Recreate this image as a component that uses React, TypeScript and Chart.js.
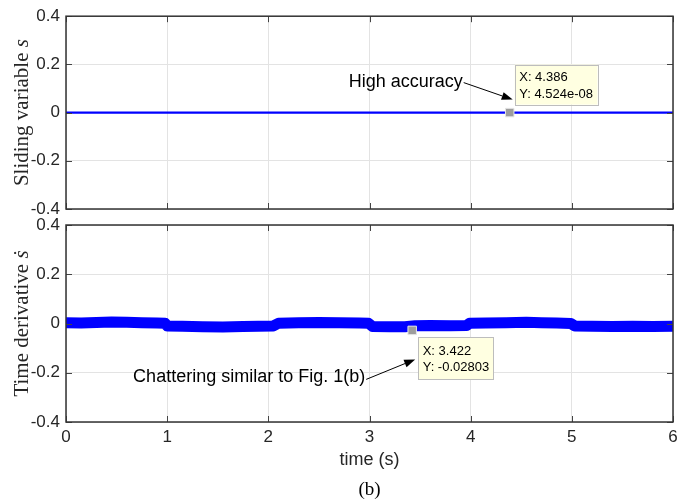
import React, { useEffect, useRef } from 'react';
import { Chart, registerables } from 'chart.js';

Chart.register(...registerables);

// ---- data ----
const timeTop = [0, 1, 2, 3, 4, 5, 6];
const slidingS = [0, 0, 0, 0, 0, 0, 0];

const timeBottom = [
  0.0, 0.15, 0.3, 0.45, 0.6, 0.75, 0.9, 0.98, 1.0, 1.15, 1.35, 1.55, 1.75, 1.9, 2.05,
  2.1, 2.3, 2.5, 2.7, 2.9, 2.99, 3.03, 3.2, 3.35, 3.45, 3.6, 3.8, 3.96, 3.99, 4.15,
  4.35, 4.55, 4.7, 4.85, 4.99, 5.03, 5.2, 5.4, 5.6, 5.8, 6.0,
];
const derivS = [
  0.003, 0.002, 0.004, 0.006, 0.005, 0.003, 0.002, 0.001, -0.01, -0.011, -0.013, -0.014, -0.012, -0.011, -0.01,
  0.001, 0.003, 0.004, 0.003, 0.002, 0.001, -0.012, -0.013, -0.013, -0.009, -0.008, -0.009, -0.008, 0.001, 0.002,
  0.003, 0.005, 0.003, 0.002, 0.0, -0.01, -0.011, -0.012, -0.011, -0.012, -0.011,
];

const xTickValues = [0, 1, 2, 3, 4, 5, 6];
const xTickLabels = ['0', '1', '2', '3', '4', '5', '6'];
const yTickValues = [-0.4, -0.2, 0, 0.2, 0.4];
const yTickLabels = ['-0.4', '-0.2', '0', '0.2', '0.4'];

const tipTopXY = [4.386, 4.524e-8];
const tipTopText = ['X: 4.386', 'Y: 4.524e-08'];
const tipBottomXY = [3.422, -0.02803];
const tipBottomText = ['X: 3.422', 'Y: -0.02803'];

const noteTop = 'High accuracy';
const noteBottom = 'Chattering similar to Fig. 1(b)';
const yTitleTop = ['Sliding variable ', 's'];
const yTitleBottom = ['Time derivative ', '\u1E61'];
const xTitle = 'time (s)';
const caption = '(b)';

// ---- styles ----
const SANS = '"Liberation Sans", Arial, sans-serif';
const SERIF = '"Liberation Serif", "Times New Roman", serif';
const BLUE = '#0000ff';
const AXIS = '#262626';

function arrow(ctx: CanvasRenderingContext2D, x1: number, y1: number, x2: number, y2: number) {
  const ang = Math.atan2(y2 - y1, x2 - x1);
  const len = 11;
  const hw = 4;
  const bx = x2 - len * Math.cos(ang);
  const by = y2 - len * Math.sin(ang);
  ctx.strokeStyle = '#000';
  ctx.fillStyle = '#000';
  ctx.lineWidth = 1;
  ctx.beginPath();
  ctx.moveTo(x1, y1);
  ctx.lineTo(bx, by);
  ctx.stroke();
  ctx.beginPath();
  ctx.moveTo(x2, y2);
  ctx.lineTo(bx + hw * Math.sin(ang), by - hw * Math.cos(ang));
  ctx.lineTo(bx - hw * Math.sin(ang), by + hw * Math.cos(ang));
  ctx.closePath();
  ctx.fill();
}

function tipBox(ctx: CanvasRenderingContext2D, left: number, top: number, lines: string[], h: number, firstY: number) {
  ctx.font = `13px ${SANS}`;
  const w = Math.max(...lines.map((l) => ctx.measureText(l).width)) + 9;
  ctx.fillStyle = '#ffffe1';
  ctx.fillRect(left, top, w, h);
  ctx.strokeStyle = '#bdbdbd';
  ctx.lineWidth = 1;
  ctx.strokeRect(Math.round(left) + 0.5, Math.round(top) + 0.5, Math.round(w), h);
  ctx.fillStyle = '#000';
  ctx.textAlign = 'left';
  ctx.textBaseline = 'middle';
  lines.forEach((l, i) => ctx.fillText(l, left + 4.5, top + firstY + i * 16.5));
}

function makePlugin(kind: 'top' | 'bottom') {
  return {
    id: 'decor_' + kind,
    afterDraw(chart: any) {
      const ctx: CanvasRenderingContext2D = chart.ctx;
      const a = chart.chartArea;
      const xs = chart.scales.x;
      const ys = chart.scales.y;
      ctx.save();
      // inner tick marks
      ctx.strokeStyle = '#444';
      ctx.lineWidth = 1;
      ctx.beginPath();
      xTickValues.forEach((v) => {
        const px = Math.round(xs.getPixelForValue(v)) + 0.5;
        ctx.moveTo(px, a.bottom);
        ctx.lineTo(px, a.bottom - 6);
        ctx.moveTo(px, a.top);
        ctx.lineTo(px, a.top + 6);
      });
      yTickValues.forEach((v) => {
        const py = Math.round(ys.getPixelForValue(v)) + 0.5;
        ctx.moveTo(a.left, py);
        ctx.lineTo(a.left + 6, py);
        ctx.moveTo(a.right, py);
        ctx.lineTo(a.right - 6, py);
      });
      ctx.stroke();
      // box
      ctx.strokeStyle = '#333';
      ctx.lineWidth = 1.5;
      ctx.strokeRect(a.left, a.top, a.right - a.left, a.bottom - a.top);

      // y title
      const title = kind === 'top' ? yTitleTop : yTitleBottom;
      ctx.save();
      ctx.translate(22, (a.top + a.bottom) / 2);
      ctx.rotate(-Math.PI / 2);
      ctx.fillStyle = AXIS;
      ctx.textBaseline = 'middle';
      ctx.textAlign = 'left';
      ctx.font = `21px ${SERIF}`;
      const w1 = ctx.measureText(title[0]).width;
      ctx.font = `italic 21px ${SERIF}`;
      const w2 = ctx.measureText(title[1]).width;
      const sx = -(w1 + w2) / 2;
      ctx.font = `21px ${SERIF}`;
      ctx.fillText(title[0], sx, 0);
      ctx.font = `italic 21px ${SERIF}`;
      ctx.fillText(title[1], sx + w1, 0);
      ctx.restore();

      if (kind === 'top') {
        const mx = xs.getPixelForValue(tipTopXY[0]);
        const my = ys.getPixelForValue(tipTopXY[1]);
        tipBox(ctx, mx + 5, my - 48, tipTopText, 40, 13);
        ctx.font = `18px ${SANS}`;
        ctx.fillStyle = '#000';
        ctx.textAlign = 'right';
        ctx.textBaseline = 'middle';
        ctx.fillText(noteTop, mx - 47, my - 31);
        arrow(ctx, mx - 46, my - 30, mx + 3, my - 13);
      } else {
        const mx = xs.getPixelForValue(tipBottomXY[0]);
        const my = ys.getPixelForValue(tipBottomXY[1]);
        tipBox(ctx, mx + 6, my + 7, tipBottomText, 42, 14);
        ctx.font = `18px ${SANS}`;
        ctx.fillStyle = '#000';
        ctx.textAlign = 'right';
        ctx.textBaseline = 'middle';
        ctx.fillText(noteBottom, mx - 47, my + 47);
        arrow(ctx, mx - 46, my + 49, mx + 3, my + 29);

        ctx.fillStyle = AXIS;
        ctx.textAlign = 'center';
        ctx.font = `18px ${SANS}`;
        ctx.fillText(xTitle, (a.left + a.right) / 2, 460);
        ctx.fillStyle = '#000';
        ctx.font = `19px ${SERIF}`;
        ctx.fillText(caption, (a.left + a.right) / 2, 490);
      }
      ctx.restore();
    },
  };
}

function yScale(): any {
  return {
    type: 'linear',
    min: -0.4,
    max: 0.4,
    afterFit: (s: any) => {
      s.width = 66;
    },
    afterBuildTicks: (s: any) => {
      s.ticks = yTickValues.map((v) => ({ value: v }));
    },
    ticks: {
      callback: (_v: any, i: number) => yTickLabels[i],
      font: { family: SANS, size: 17 },
      color: AXIS,
      padding: 6,
    },
    grid: { color: '#e3e3e3', drawTicks: false, lineWidth: 1 },
    border: { display: false },
  };
}

function xScale(showLabels: boolean): any {
  return {
    type: 'linear',
    min: 0,
    max: 6,
    afterFit: (s: any) => {
      s.height = showLabels ? 79 : 0;
    },
    afterBuildTicks: (s: any) => {
      s.ticks = xTickValues.map((v) => ({ value: v }));
    },
    ticks: {
      display: showLabels,
      callback: (_v: any, i: number) => xTickLabels[i],
      font: { family: SANS, size: 17 },
      color: AXIS,
      padding: 5,
      maxRotation: 0,
    },
    grid: { color: '#e3e3e3', drawTicks: false, lineWidth: 1 },
    border: { display: false },
  };
}

export default function App() {
  const topRef = useRef<HTMLCanvasElement>(null);
  const botRef = useRef<HTMLCanvasElement>(null);

  useEffect(() => {
    const marker = (xy: number[]) => ({
      data: [{ x: xy[0], y: xy[1] }],
      showLine: false,
      pointStyle: 'rect',
      pointRadius: 6,
      pointBackgroundColor: '#9d9d9d',
      pointBorderColor: '#e6e6e6',
      pointBorderWidth: 1,
      order: 0,
    });
    const common: any = {
      responsive: false,
      animation: false,
      devicePixelRatio: 1,
      plugins: { legend: { display: false }, tooltip: { enabled: false } },
      events: [],
    };
    const top = new Chart(topRef.current!, {
      type: 'line',
      data: {
        datasets: [
          marker(tipTopXY) as any,
          {
            data: timeTop.map((t, i) => ({ x: t, y: slidingS[i] })),
            borderColor: BLUE,
            borderWidth: 2.2,
            pointRadius: 0,
            order: 1,
          },
        ],
      },
      options: {
        ...common,
        layout: { padding: { left: 0, right: 13, top: 12, bottom: 292 } },
        scales: { x: xScale(false), y: yScale() },
      },
      plugins: [makePlugin('top')],
    });
    const bot = new Chart(botRef.current!, {
      type: 'line',
      data: {
        datasets: [
          marker(tipBottomXY) as any,
          {
            data: timeBottom.map((t, i) => ({ x: t, y: derivS[i] })),
            borderColor: BLUE,
            borderWidth: 11,
            borderJoinStyle: 'round',
            pointRadius: 0,
            order: 1,
          },
        ],
      },
      options: {
        ...common,
        layout: { padding: { left: 0, right: 13, top: 225, bottom: 0 } },
        scales: { x: xScale(true), y: yScale() },
      },
      plugins: [makePlugin('bottom')],
    });
    return () => {
      top.destroy();
      bot.destroy();
    };
  }, []);

  const cs: React.CSSProperties = { position: 'absolute', left: 0, top: 0 };
  return (
    <div style={{ position: 'fixed', left: 0, top: 0, width: 686, height: 501, background: '#fff' }}>
      <canvas ref={topRef} width={686} height={501} style={cs} />
      <canvas ref={botRef} width={686} height={501} style={cs} />
    </div>
  );
}
